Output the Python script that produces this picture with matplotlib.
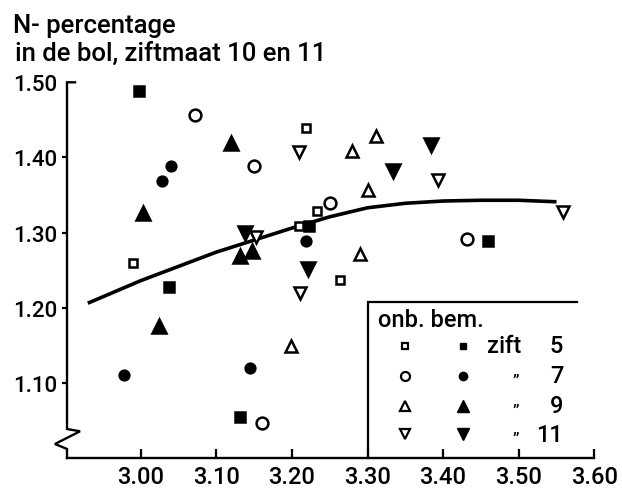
import matplotlib
matplotlib.use("Agg")
import matplotlib.pyplot as plt

plt.rcParams['font.family'] = ['Roboto', 'DejaVu Sans']
plt.rcParams['font.weight'] = 'medium'

# N-percentage in the bulb against bulb weight class, sieve sizes 10 and 11.
# Open markers: unfertilised (onb.), filled markers: fertilised (bem.)
zift5_onb_x = [2.990, 3.218, 3.209, 3.233, 3.263]
zift5_onb_y = [1.260, 1.439, 1.309, 1.329, 1.237]
zift5_bem_x = [2.998, 3.038, 3.132, 3.222, 3.460]
zift5_bem_y = [1.488, 1.227, 1.054, 1.309, 1.289]

zift7_onb_x = [3.072, 3.150, 3.251, 3.432, 3.161]
zift7_onb_y = [1.456, 1.388, 1.339, 1.292, 1.046]
zift7_bem_x = [3.040, 3.028, 3.219, 3.145, 2.978]
zift7_bem_y = [1.389, 1.369, 1.289, 1.120, 1.110]

zift9_onb_x = [3.311, 3.279, 3.300, 3.290, 3.199]
zift9_onb_y = [1.428, 1.408, 1.357, 1.271, 1.149]
zift9_bem_x = [3.119, 3.003, 3.131, 3.147, 3.024]
zift9_bem_y = [1.419, 1.326, 1.269, 1.275, 1.176]

zift11_onb_x = [3.209, 3.393, 3.559, 3.211, 3.153]
zift11_onb_y = [1.407, 1.370, 1.327, 1.220, 1.294]
zift11_bem_x = [3.384, 3.334, 3.138, 3.221]
zift11_bem_y = [1.417, 1.382, 1.300, 1.251]

# trend curve
trend_x = [2.93, 3.00, 3.10, 3.20, 3.25, 3.30, 3.35, 3.40, 3.45, 3.50, 3.55]
trend_y = [1.206, 1.236, 1.274, 1.306, 1.321, 1.333, 1.339, 1.342, 1.343, 1.343, 1.341]

x_ticks = [3.00, 3.10, 3.20, 3.30, 3.40, 3.50, 3.60]
x_tick_labels = ["3.00", "3.10", "3.20", "3.30", "3.40", "3.50", "3.60"]
y_ticks = [1.10, 1.20, 1.30, 1.40, 1.50]
y_tick_labels = ["1.10", "1.20", "1.30", "1.40", "1.50"]

legend_numbers = ["5", "7", "9", "11"]

W, H = 622, 489
fig = plt.figure(figsize=(W / 100, H / 100), dpi=100)
ax = fig.add_axes([67 / W, 30 / H, 527.3 / W, 375.7 / H])
ax.set_xlim(2.9025, 3.60)
ax.set_ylim(1.00, 1.50)

ink = "black"
ax.plot(trend_x, trend_y, color=ink, lw=2.6, solid_capstyle="butt", zorder=2)

series = [
    (zift5_onb_x, zift5_onb_y, "s", 5.5, False),
    (zift5_bem_x, zift5_bem_y, "s", 6.5, True),
    (zift7_onb_x, zift7_onb_y, "o", 8.5, False),
    (zift7_bem_x, zift7_bem_y, "o", 7.0, True),
    (zift9_onb_x, zift9_onb_y, "^", 8.0, False),
    (zift9_bem_x, zift9_bem_y, "^", 10.0, True),
    (zift11_onb_x, zift11_onb_y, "v", 8.0, False),
    (zift11_bem_x, zift11_bem_y, "v", 10.0, True),
]
for xs, ys, m, ms, filled in series:
    ax.plot(xs, ys, linestyle="none", marker=m, markersize=ms,
            markerfacecolor=ink if filled else "white",
            markeredgecolor=ink, markeredgewidth=1.8, zorder=3)

# axes styling
for side in ("left", "right", "top"):
    ax.spines[side].set_visible(False)
ax.spines["bottom"].set_linewidth(1.7)

ax.set_xticks(x_ticks)
ax.set_xticklabels(x_tick_labels, fontsize=17)
ax.tick_params(axis="x", direction="in", length=6.5, width=1.6, pad=5)
ax.set_yticks(y_ticks)
ax.set_yticklabels(y_tick_labels, fontsize=16)
ax.tick_params(axis="y", direction="out", length=3.6, width=1.6, pad=3.6)
ax.yaxis.get_major_ticks()[-1].tick1line.set_visible(False)

# broken y-axis with a zigzag near the bottom
spine_x = [0.0152, 0.0, 0.0, 0.0247, -0.0228, 0.0, 0.0]
spine_y = [1.0, 1.0, 0.0772, 0.0711, 0.0373, 0.024, 0.0]
ax.plot(spine_x, spine_y, color=ink, lw=1.7, transform=ax.transAxes,
        clip_on=False, solid_joinstyle="miter", zorder=4)

# key in the lower right corner
ax.plot([3.30, 3.30, 3.5767], [1.00, 1.208, 1.208], color=ink, lw=1.6,
        clip_on=False, solid_joinstyle="miter", zorder=4)
ax.text(3.314, 1.176, "onb. bem.", fontsize=17, va="baseline", ha="left")
row_y = [1.1493, 1.1094, 1.0694, 1.0318]
key_markers = [("s", 4.5, 5.0), ("o", 6.5, 6.0), ("^", 7.0, 8.0), ("v", 7.0, 8.0)]
for (m, ms_open, ms_fill), ry, num in zip(key_markers, row_y, legend_numbers):
    ax.plot([3.3496], [ry], linestyle="none", marker=m, markersize=ms_open,
            markerfacecolor="white", markeredgecolor=ink, markeredgewidth=1.6)
    ax.plot([3.4267], [ry], linestyle="none", marker=m, markersize=ms_fill,
            markerfacecolor=ink, markeredgecolor=ink, markeredgewidth=1.0)
    ax.text(3.559, ry, num, fontsize=17, va="center", ha="right")
ax.text(3.4577, row_y[0], "zift", fontsize=17, va="center", ha="left")
for ry in row_y[1:]:
    ax.text(3.4960, ry - 0.006, "\u201D", fontsize=12, va="center", ha="center")

fig.text(13 / W, 1 - 33.3 / H, "N- percentage", fontsize=18.5, va="baseline", ha="left")
fig.text(15 / W, 1 - 61 / H, "in de bol, ziftmaat 10 en 11", fontsize=18.5,
         va="baseline", ha="left")

fig.savefig("out.png", dpi=100)
